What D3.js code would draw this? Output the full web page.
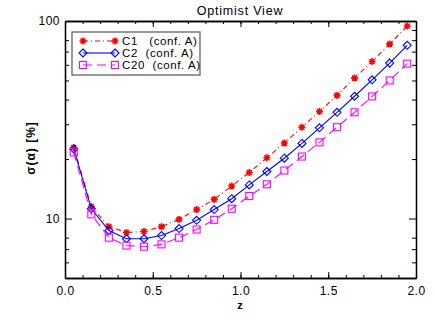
<!DOCTYPE html>
<html>
<head>
<meta charset="utf-8">
<script src="https://cdn.jsdelivr.net/npm/d3@7"></script>
<style>
  body { margin: 0; background: #fff; }
  text { font-family: "Liberation Sans", Arial, sans-serif; }
</style>
</head>
<body>
<div class="chart"></div>
<script>
var zValues = [0.05,0.15,0.25,0.35,0.45,0.55,0.65,0.75,0.85,0.95,1.05,1.15,1.25,1.35,1.45,1.55,1.65,1.75,1.85,1.95];
var c1 = [22.9,11.5,9.1,8.5,8.6,9.1,9.9,11.1,12.5,14.6,17.1,20.3,24.1,29.0,34.8,42.0,51.4,62.4,76.4,94.3];
var c2 = [22.5,11.2,8.7,7.9,7.9,8.2,8.9,9.8,11.1,12.6,14.8,17.3,20.2,24.0,28.8,34.5,41.6,50.4,61.2,75.3];
var c20 = [21.6,10.5,8.0,7.3,7.2,7.4,8.0,8.8,9.85,11.2,13.0,14.9,17.5,20.6,24.3,29.0,34.5,41.5,50.0,60.8];
var seriesNames = ["C1   (conf. A)", "C2  (conf. A)", "C20  (conf. A)"];
var xTicks = [0, 0.5, 1.0, 1.5, 2.0];
var xMinor = d3.range(0, 2.001, 0.1);
var yTicks = [10, 100];
var yMinorLeft = [6,7,8,20,30,40,50,60,70,80];
var yMinorRight = [6,7,8,20,30,40,50,60,70,80,90];

var width = 436, height = 319,
    margin = {top: 21, right: 20, bottom: 41, left: 65};

var svg = d3.select(".chart").append("svg")
    .attr("width", width)
    .attr("height", height);

var x = d3.scaleLinear().domain([0, 2]).range([margin.left, width - margin.right]);
var y = d3.scaleLog().domain([5, 100]).range([height - margin.bottom, margin.top]);

// axes, ticks pointing inward like IDL
var ax = svg.append("g").attr("class", "axes");
function styleAxis(g) {
  g.selectAll("path").attr("stroke", "#000").attr("stroke-width", 1.3);
  g.selectAll("line").attr("stroke", "#000");
  g.selectAll("text").attr("font-size", "12px").attr("letter-spacing", "0.5px").attr("fill", "#000");
}
ax.append("g").attr("transform", "translate(0," + y.range()[0] + ")")
  .call(d3.axisBottom(x).tickValues(xMinor).tickSize(-3).tickFormat("").tickSizeOuter(0)).call(styleAxis);
ax.append("g").attr("transform", "translate(0," + y.range()[0] + ")")
  .call(d3.axisBottom(x).tickValues(xTicks).tickSize(-6).tickPadding(8).tickFormat(d3.format(".1f")).tickSizeOuter(0)).call(styleAxis);
ax.append("g").attr("transform", "translate(0," + y.range()[1] + ")")
  .call(d3.axisTop(x).tickValues(xMinor).tickSize(-3).tickFormat("").tickSizeOuter(0)).call(styleAxis);
ax.append("g").attr("transform", "translate(0," + y.range()[1] + ")")
  .call(d3.axisTop(x).tickValues(xTicks).tickSize(-6).tickFormat("").tickSizeOuter(0)).call(styleAxis);
ax.append("g").attr("transform", "translate(" + x.range()[0] + ",0)")
  .call(d3.axisLeft(y).tickValues(yMinorLeft).tickSize(-4).tickFormat("").tickSizeOuter(0)).call(styleAxis);
ax.append("g").attr("transform", "translate(" + x.range()[0] + ",0)")
  .call(d3.axisLeft(y).tickValues(yTicks).tickSize(-7).tickPadding(5).tickFormat(d3.format("d")).tickSizeOuter(0)).call(styleAxis);
ax.append("g").attr("transform", "translate(" + x.range()[1] + ",0)")
  .call(d3.axisRight(y).tickValues(yMinorRight).tickSize(-4).tickFormat("").tickSizeOuter(0)).call(styleAxis);
ax.append("g").attr("transform", "translate(" + x.range()[1] + ",0)")
  .call(d3.axisRight(y).tickValues(yTicks).tickSize(-7).tickFormat("").tickSizeOuter(0)).call(styleAxis);

// titles
svg.append("text").attr("x", 240).attr("y", 15).attr("text-anchor", "middle")
  .attr("font-size", "12.5px").attr("letter-spacing", "0.8px").text("Optimist View");
svg.append("text").attr("x", 240).attr("y", 309).attr("text-anchor", "middle")
  .attr("font-size", "11px").attr("font-weight", "bold").text("z");
svg.append("text").attr("transform", "translate(35,148) rotate(-90)").attr("text-anchor", "middle")
  .attr("font-size", "12px").attr("font-weight", "bold").attr("letter-spacing", "1px").text("σ(α) [%]");

var series = [
  {name: seriesNames[0], values: c1, color: "#ff0000", dash: "5,3,1,3", marker: "star"},
  {name: seriesNames[1], values: c2, color: "#0000ff", dash: null, marker: "diamond"},
  {name: seriesNames[2], values: c20, color: "#ff00ff", dash: "9,5", marker: "square"}
];

function drawMarker(g, type, color) {
  if (type === "star") {
    g.append("path").attr("d", "M-3.5,0H3.5M0,-3.5V3.5M-2.5,-2.5L2.5,2.5M-2.5,2.5L2.5,-2.5")
      .attr("stroke", color).attr("stroke-width", 1.6).attr("fill", "none");
  } else if (type === "diamond") {
    g.append("path").attr("d", "M0,-4L4,0L0,4L-4,0Z")
      .attr("stroke", color).attr("stroke-width", 1.1).attr("fill", "none");
  } else {
    g.append("rect").attr("x", -3.5).attr("y", -3.5).attr("width", 7).attr("height", 7)
      .attr("stroke", color).attr("stroke-width", 1.1).attr("fill", "none");
  }
}

var line = d3.line().x(function(d) { return x(d[0]); }).y(function(d) { return y(d[1]); });
var plot = svg.append("g").attr("class", "series");
series.forEach(function(s) {
  var pts = zValues.map(function(z, i) { return [z, s.values[i]]; });
  plot.append("path").attr("d", line(pts)).attr("fill", "none")
    .attr("stroke", s.color).attr("stroke-width", 1.1)
    .attr("stroke-dasharray", s.dash);
  pts.forEach(function(p) {
    drawMarker(plot.append("g").attr("transform", "translate(" + x(p[0]) + "," + y(p[1]) + ")"), s.marker, s.color);
  });
});

// legend
var legend = svg.append("g").attr("class", "legend");
legend.append("rect").attr("x", 72).attr("y", 32).attr("width", 128).attr("height", 43)
  .attr("fill", "#fff").attr("stroke", "#555").attr("stroke-width", 1.2);
series.forEach(function(s, i) {
  var ly = 41 + i * 12;
  legend.append("line").attr("x1", 83).attr("x2", 115).attr("y1", ly).attr("y2", ly)
    .attr("stroke", s.color).attr("stroke-width", 1.1).attr("stroke-dasharray", s.dash);
  drawMarker(legend.append("g").attr("transform", "translate(83," + ly + ")"), s.marker, s.color);
  drawMarker(legend.append("g").attr("transform", "translate(115," + ly + ")"), s.marker, s.color);
  legend.append("text").attr("x", 122).attr("y", ly + 4).attr("font-size", "11.5px")
    .attr("letter-spacing", "0.6px")
    .attr("xml:space", "preserve").style("white-space", "pre").text(s.name);
});
</script>
</body>
</html>
